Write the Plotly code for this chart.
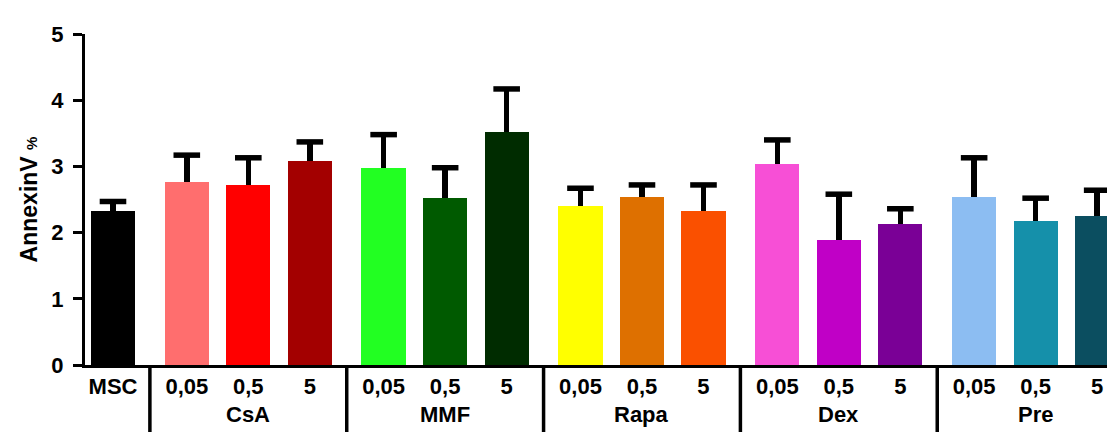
import plotly.graph_objects as go

# ---- data ----
control_label = "MSC"
control_value = 2.33
control_err = 0.14

groups = ["CsA", "MMF", "Rapa", "Dex", "Pre"]
doses = ["0,05", "0,5", "5"]

values = {
    "CsA":  [2.76, 2.72, 3.08],
    "MMF":  [2.97, 2.52, 3.52],
    "Rapa": [2.40, 2.54, 2.33],
    "Dex":  [3.03, 1.89, 2.13],
    "Pre":  [2.54, 2.18, 2.25],
}
errors = {
    "CsA":  [0.41, 0.41, 0.29],
    "MMF":  [0.51, 0.46, 0.65],
    "Rapa": [0.27, 0.18, 0.39],
    "Dex":  [0.37, 0.69, 0.23],
    "Pre":  [0.59, 0.34, 0.39],
}
control_color = "#000000"
colors = {
    "CsA":  ["#FF6E6E", "#FF0000", "#A30000"],
    "MMF":  ["#22FF22", "#005A00", "#002C00"],
    "Rapa": ["#FFFF00", "#DE7000", "#FA5000"],
    "Dex":  ["#F74FD6", "#C000C6", "#7A0096"],
    "Pre":  ["#8CBDF2", "#1590AA", "#0B4E60"],
}

y_ticks = [0, 1, 2, 3, 4, 5]

# ---- layout of categories ----
group_gap = 0.2
group_start = 1 + group_gap
group_span = len(doses) + group_gap

xs, ys, es, cs, tlabels = [0.0], [control_value], [control_err], [control_color], [control_label]
group_centers, separators = [], [group_start / 2]
for gi, g in enumerate(groups):
    base = group_start + gi * group_span
    for di, d in enumerate(doses):
        xs.append(base + di)
        ys.append(values[g][di])
        es.append(errors[g][di])
        cs.append(colors[g][di])
        tlabels.append(d)
    group_centers.append(base + (len(doses) - 1) / 2)
    if gi < len(groups) - 1:
        separators.append(base + len(doses) - 1 + (1 + group_gap) / 2)

fig = go.Figure()
# bars with upper error stems (no caps)
fig.add_trace(go.Bar(
    x=xs, y=ys, width=0.72,
    marker=dict(color=cs, line=dict(width=0)),
    error_y=dict(type="data", array=es, arrayminus=[0] * len(es), symmetric=False,
                 color="#000000", thickness=5.5, width=0),
    showlegend=False, hoverinfo="skip",
))
# caps of the error bars
fig.add_trace(go.Scatter(
    x=xs, y=[v + e for v, e in zip(ys, es)], mode="markers",
    marker=dict(symbol="line-ew", size=19, color="#000000",
                line=dict(color="#000000", width=5.5)),
    showlegend=False, hoverinfo="skip", cliponaxis=False,
))

font_family = "Liberation Sans, Arial, sans-serif"

for xc, g in zip(group_centers, groups):
    fig.add_annotation(x=xc, y=-0.15, xref="x", yref="paper", text=g, showarrow=False,
                       yanchor="middle",
                       font=dict(family=font_family, size=22, color="#000000", weight=700))

for sx in separators:
    fig.add_shape(type="line", xref="x", yref="paper", x0=sx, x1=sx, y0=0, y1=-0.24,
                  line=dict(color="#000000", width=3.5))

fig.update_layout(
    width=1115, height=432,
    margin=dict(l=77, r=0, t=26, b=75),
    paper_bgcolor="#FFFFFF", plot_bgcolor="#FFFFFF",
    bargap=0,
    font=dict(family=font_family, color="#000000"),
)
fig.update_xaxes(
    range=[-0.455, 16.42],
    tickvals=xs, ticktext=tlabels,
    tickfont=dict(family=font_family, size=22, color="#000000", weight=700),
    ticks="", showgrid=False, zeroline=False,
    showline=True, linecolor="#000000", linewidth=3,
)
fig.update_yaxes(
    range=[0, 5], tickvals=y_ticks,
    tickfont=dict(family=font_family, size=22, color="#000000", weight=700),
    ticks="outside", ticklen=9, tickwidth=3, tickcolor="#000000",
    ticklabelstandoff=5,
    showgrid=False, zeroline=False,
    showline=True, linecolor="#000000", linewidth=3,
    title=dict(text="AnnexinV <span style='font-size:15px'>%</span>",
               font=dict(family=font_family, size=23, color="#000000", weight=700),
               standoff=8),
)

fig.write_html("out.html")
